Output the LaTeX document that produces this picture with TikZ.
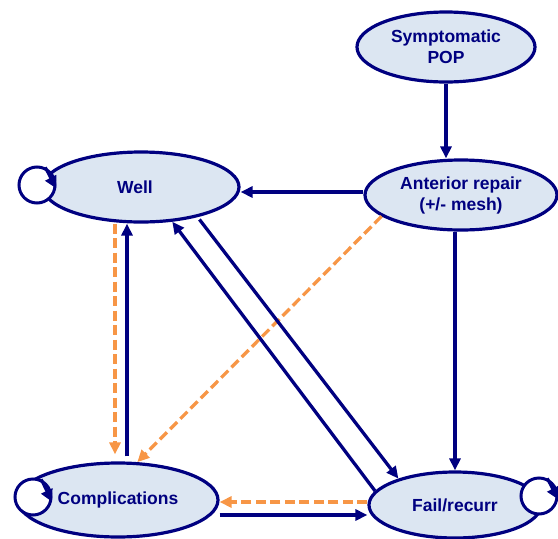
\documentclass[tikz,border=0pt]{standalone}
\usepackage{fontspec}
\setmainfont{Liberation Sans}
\usetikzlibrary{shapes.geometric,arrows.meta}
\definecolor{navy}{RGB}{0,0,128}
\definecolor{statefill}{RGB}{220,230,242}
\definecolor{dashorange}{RGB}{247,150,70}

\begin{document}
\begin{tikzpicture}[x=1pt,y=-1pt,
  state/.style={ellipse, draw=navy, line width=3.2pt, fill=statefill, inner sep=0pt,
    text=navy, font=\fontsize{17.5}{21}\selectfont\bfseries, align=center},
  selfloop/.style={circle, draw=navy, line width=3pt, fill=white,
    minimum size=36pt, inner sep=0pt},
  looptip/.style={draw=navy, line width=3pt, -{Triangle[length=12pt,width=12pt]}},
  arr/.style={draw=navy, line width=3.3pt, -{Triangle[length=12pt,width=11pt]}},
  darr/.style={draw=dashorange, line width=3.3pt, dash pattern=on 10pt off 4.5pt,
    -{Triangle[length=12pt,width=11pt]}},
]
\useasboundingbox (0,0) rectangle (558,539);

% states
\node[state, minimum width=178pt, minimum height=70pt] (pop) at (446,47) {Symptomatic\\POP};
\node[state, minimum width=192pt, minimum height=70pt] (ant) at (461,195) {Anterior repair\\(+/- mesh)};
\node[state, minimum width=196pt, minimum height=70pt] (well) at (141,187) {\hspace*{-12pt}Well};
\node[state, minimum width=200pt, minimum height=74pt] (comp) at (118,500) {Complications};
\node[state, minimum width=172pt, minimum height=66pt] (fail) at (455,505) {Fail/recurr};

% self transitions
\node[selfloop] (wl) at (37,185) {};
\node[selfloop] (cl) at (33,497) {};
\node[selfloop] (fl) at (539,496) {};
\draw[looptip] (wl.65) -- (wl.-10);
\draw[looptip] (cl.65) -- (cl.-14);
\draw[looptip] (fl.65) -- (fl.-10);

% transitions
\draw[arr] (pop.south) -- (pop.south |- ant.north);
\draw[arr] ([yshift=3pt]ant.west) -- ([yshift=3pt]ant.west -| well.east);
\draw[arr] (ant.south -| fail.north) -- (fail.north);
\draw[darr] (ant.195.6) -- (comp.63.4);
\draw[darr, shorten >=7pt] ([xshift=-26pt]well.south) -- ([xshift=-26pt]well.south |- comp.north);
\draw[arr, shorten <=5pt] ([xshift=-14pt]well.south |- comp.north) -- ([xshift=-14pt]well.south);
\draw[arr, shorten <=3pt] (well.332) -- (fail.155);
\draw[arr] (fail.170) -- (well.312);
\draw[darr] ([yshift=3pt]fail.west) -- ([yshift=3pt]fail.west -| comp.east);
\draw[arr] ([yshift=-15pt]comp.east) -- ([yshift=-15pt]comp.east -| fail.west);
\end{tikzpicture}
\end{document}
